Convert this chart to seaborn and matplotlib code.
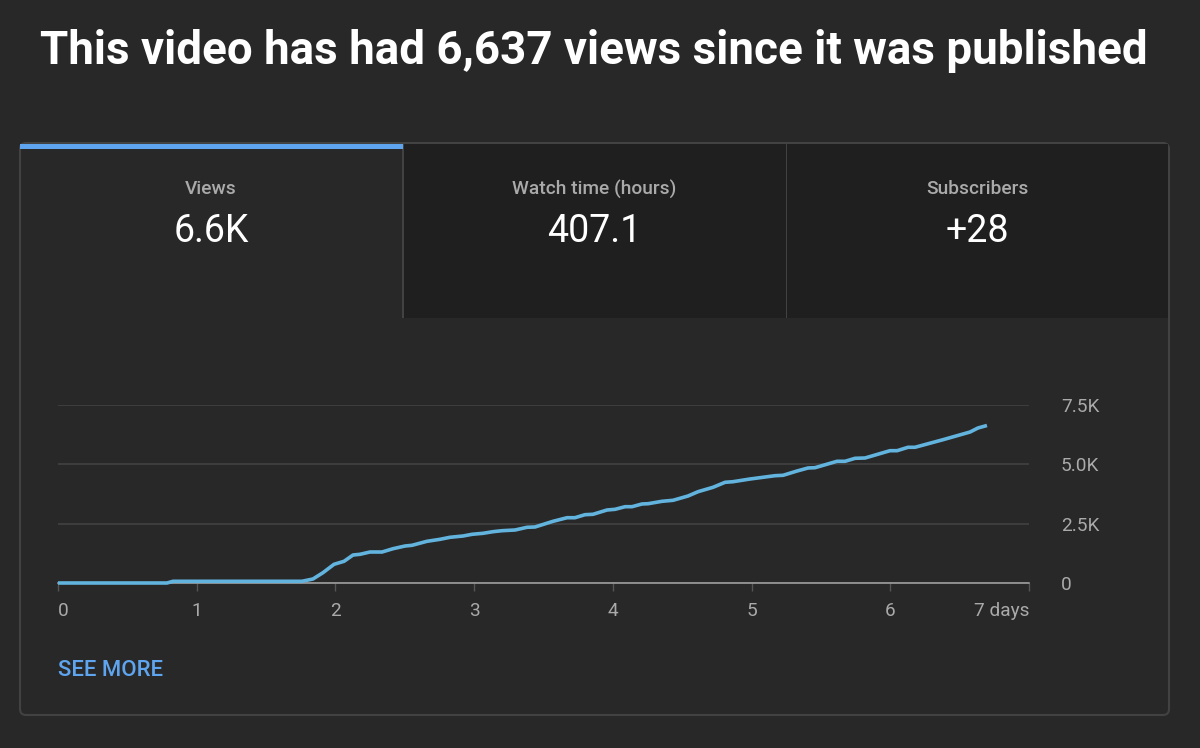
from __future__ import annotations

import matplotlib

matplotlib.use("Agg")
import matplotlib.pyplot as plt
import pandas as pd
import seaborn as sns
from matplotlib.patches import FancyBboxPatch, Rectangle

days = [
    0.0, 0.786, 0.829, 1.759, 1.838, 1.910, 1.990, 2.062, 2.127, 2.177, 2.249, 2.336,
    2.415, 2.502, 2.552, 2.660, 2.754, 2.826, 2.920, 2.985, 3.064, 3.136, 3.201, 3.295,
    3.381, 3.439, 3.569, 3.670, 3.727, 3.799, 3.857, 3.958, 4.016, 4.088, 4.138, 4.210,
    4.254, 4.354, 4.434, 4.542, 4.614, 4.722, 4.809, 4.866, 4.989, 5.169, 5.227, 5.328,
    5.407, 5.457, 5.616, 5.674, 5.746, 5.818, 5.998, 6.049, 6.128, 6.178, 6.380, 6.575,
    6.632, 6.697,
]
views = [
    0, 0, 72, 72, 169, 434, 788, 914, 1180, 1209, 1306, 1306,
    1445, 1559, 1588, 1757, 1841, 1926, 1980, 2052, 2094, 2162, 2204, 2233,
    2347, 2360, 2600, 2751, 2751, 2878, 2895, 3076, 3105, 3215, 3215, 3329,
    3341, 3442, 3485, 3666, 3847, 4032, 4243, 4268, 4382, 4521, 4538, 4719,
    4846, 4858, 5128, 5128, 5254, 5267, 5575, 5575, 5718, 5718, 6038, 6362,
    6531, 6637,
]
x_ticks = [0, 1, 2, 3, 4, 5, 6, 7]
x_labels = ["0", "1", "2", "3", "4", "5", "6", "7 days"]
y_ticks = [0, 2500, 5000, 7500]
y_labels = ["0", "2.5K", "5.0K", "7.5K"]
tab_names = ["Views", "Watch time (hours)", "Subscribers"]
tab_values = ["6.6K", "407.1", "+28"]

W, H = 1200, 748
BG = "#282828"
TAB_DARK = "#1f1f1f"
BORDER = "#424242"
GREY = "#aaaaaa"
BLUE = "#5ea4ee"
LINE = "#62b4de"


def fx(px):
    return px / W


def fy(px):
    return 1 - px / H


def add_rect(fig, x0, y0, x1, y1, color, zorder=1):
    fig.add_artist(Rectangle((fx(x0), fy(y1)), fx(x1 - x0), (y1 - y0) / H, transform=fig.transFigure,
                             facecolor=color, edgecolor="none", zorder=zorder))


sns.set_theme(style="dark", rc={"axes.facecolor": "none", "figure.facecolor": BG})
plt.rcParams["font.family"] = ["Roboto", "DejaVu Sans"]

fig = plt.figure(figsize=(W / 100, H / 100), dpi=100, facecolor=BG)

# card with three tabs on top
card = FancyBboxPatch((fx(20), fy(715)), fx(1149), 572 / H, transform=fig.transFigure,
                      boxstyle="round,pad=0,rounding_size=0.005", mutation_aspect=W / H,
                      facecolor=BG, edgecolor=BORDER, linewidth=1.5, zorder=0)
fig.add_artist(card)
add_rect(fig, 403, 144, 1168, 318, TAB_DARK)
add_rect(fig, 402.5, 144, 404, 318, BORDER, zorder=2)
add_rect(fig, 785.5, 144, 787, 318, BORDER, zorder=2)
add_rect(fig, 20, 144, 403, 149, BLUE, zorder=2)

fig.text(0.495, fy(51), "This video has had 6,637 views since it was published", color="white",
         fontsize=32.95, fontweight="bold", ha="center", va="center")

for cx, name, value in zip([211, 594, 977], tab_names, tab_values):
    fig.text(fx(cx), fy(189), name, color=GREY, fontsize=13.8, fontweight="medium", ha="center", va="center")
    fig.text(fx(cx), fy(232), value, color="white", fontsize=27, ha="center", va="center")

fig.text(fx(58), fy(670), "SEE MORE", color=BLUE, fontsize=15.9, fontweight="medium", ha="left", va="center")

ax = fig.add_axes([fx(58), fy(583), fx(1029 - 58), 178 / H])
df = pd.DataFrame({"days": days, "views": views})
sns.lineplot(data=df, x="days", y="views", ax=ax, color=LINE, linewidth=2.6, estimator=None,
             solid_capstyle="butt", clip_on=False, zorder=5)

ax.set_xlim(0, 7)
ax.set_ylim(0, 7500)
ax.set_xlabel("")
ax.set_ylabel("")
ax.set_xticks(x_ticks, x_labels)
ax.set_yticks(y_ticks, y_labels)
ax.yaxis.tick_right()
ax.tick_params(axis="x", length=6, width=1, color="#555555", labelcolor=GREY, labelsize=13.7, pad=7.5, bottom=True)
ax.tick_params(axis="y", length=0, labelcolor=GREY, labelsize=13.7, pad=23)
ax.get_xticklabels()[0].set_ha("left")
ax.get_xticklabels()[-1].set_ha("right")

ax.grid(axis="y", color="#444444", linewidth=1.1)
ax.grid(axis="x", visible=False)
for side in ["top", "left", "right"]:
    ax.spines[side].set_visible(False)
ax.spines["bottom"].set_color("#a8a8a8")
ax.spines["bottom"].set_linewidth(1.1)

fig.savefig("out.png", dpi=100, facecolor=BG)
